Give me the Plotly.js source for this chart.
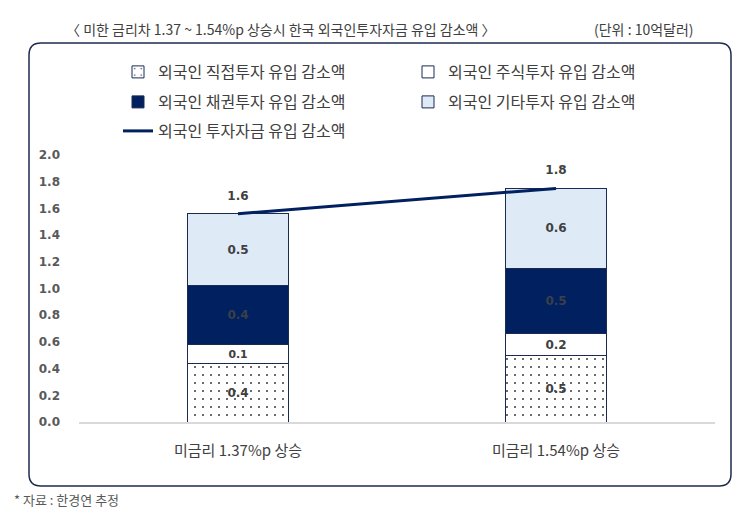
<!DOCTYPE html>
<html>
<head>
<meta charset="utf-8">
<script src="https://cdn.plot.ly/plotly-3.0.1.min.js"></script>
<style>
  html, body { margin: 0; padding: 0; background: #fff; }
  #chart { width: 744px; height: 516px; }
</style>
</head>
<body>
<div id="chart"></div>
<script>
"use strict"
// 값 (단위: 10억달러) - 그림에서 읽은 값
let categories = ['미금리 1.37%p 상승', '미금리 1.54%p 상승'];
let fdiValues = [0.44, 0.50];      // 직접투자
let equityValues = [0.14, 0.16];   // 주식투자
let bondValues = [0.44, 0.49];     // 채권투자
let otherValues = [0.54, 0.60];    // 기타투자
let totalValues = [1.56, 1.75];    // 투자자금 합계
let yTicks = [0, 0.2, 0.4, 0.6, 0.8, 1.0, 1.2, 1.4, 1.6, 1.8, 2.0];

let navy = '#002060';
let textGray = '#404040';
let numFont = 'DejaVu Sans';
let krFont = '"Noto Sans CJK KR", "Noto Sans", sans-serif';

// 플롯 영역 (px) -> paper 좌표
let plotL = 79, plotR = 715, plotT = 155, plotB = 422;
function px(x) { return (x - plotL) / (plotR - plotL); }
function py(y) { return (plotB - y) / (plotB - plotT); }

function barTrace(name, values, fill, legendId) {
    return {
        x: categories,
        y: values,
        name: name,
        legend: legendId,
        type: 'bar',
        width: 0.315,
        texttemplate: '%{y:.1f}',
        textposition: 'inside',
        insidetextanchor: 'middle',
        textangle: 0,
        textfont: { family: numFont, size: 12, color: textGray, weight: 'bold' },
        hoverinfo: 'none',
        marker: {
            color: fill,
            line: { color: '#1b2a52', width: 1 }
        }
    };
}

var trace1 = barTrace('외국인 직접투자 유입 감소액', fdiValues, '#ffffff', 'legend');
trace1.marker.pattern = { shape: '.', fgcolor: '#222222', bgcolor: '#ffffff', size: 8, solidity: 0.04 };
var trace2 = barTrace('외국인 주식투자 유입 감소액', equityValues, '#ffffff', 'legend');
var trace3 = barTrace('외국인 채권투자 유입 감소액', bondValues, navy, 'legend2');
trace3.textfont.color = '#3a3f4a';
var trace4 = barTrace('외국인 기타투자 유입 감소액', otherValues, '#deebf7', 'legend2');

var trace5 = {
    x: categories,
    y: totalValues,
    name: '외국인 투자자금 유입 감소액',
    legend: 'legend3',
    type: 'scatter',
    mode: 'lines+markers+text',
    texttemplate: '%{y:.1f}',
    textposition: 'top center',
    textfont: { family: numFont, size: 12, color: textGray, weight: 'bold' },
    hoverinfo: 'none',
    marker: { size: 16, color: 'rgba(0,0,0,0)' },
    line: { color: navy, width: 3 }
};

var data = [trace1, trace2, trace3, trace4, trace5];

function legendRow(yPix) {
    return {
        orientation: 'h',
        x: px(118),
        xanchor: 'left',
        y: py(yPix),
        yanchor: 'middle',
        entrywidth: 245,
        entrywidthmode: 'pixels',
        traceorder: 'normal',
        font: { family: krFont, size: 16, color: textGray },
        bgcolor: 'rgba(0,0,0,0)'
    };
}

var layout = {
    width: 744,
    height: 516,
    margin: { l: plotL, r: 744 - plotR, t: plotT, b: 516 - plotB },
    paper_bgcolor: '#ffffff',
    plot_bgcolor: '#ffffff',
    barmode: 'stack',
    bargap: 0,
    showlegend: true,
    font: { family: krFont, color: textGray },
    legend: legendRow(72),
    legend2: legendRow(102),
    legend3: legendRow(131),
    xaxis: {
        type: 'category',
        range: [-0.5, 1.5],
        showline: true,
        linecolor: '#d9d9d9',
        linewidth: 1.5,
        showgrid: false,
        ticks: '',
        ticklabelstandoff: 14,
        tickfont: { family: krFont, size: 15, color: textGray },
        fixedrange: true
    },
    yaxis: {
        range: [0, 2.0],
        tickvals: yTicks,
        tickformat: '.1f',
        showgrid: false,
        zeroline: false,
        showline: false,
        ticks: '',
        ticklabelstandoff: 18,
        tickfont: { family: numFont, size: 12, color: '#595959', weight: 'bold' },
        fixedrange: true
    },
    shapes: [],
    annotations: [
        {
            xref: 'paper', yref: 'paper', x: px(64), y: py(29),
            xanchor: 'left', yanchor: 'middle', showarrow: false,
            text: '〈 미한 금리차 1.37 ~ 1.54%p 상승시 한국 외국인투자자금 유입 감소액 〉',
            font: { family: krFont, size: 14, color: textGray }
        },
        {
            xref: 'paper', yref: 'paper', x: px(696), y: py(29),
            xanchor: 'right', yanchor: 'middle', showarrow: false,
            text: '(단위 : 10억달러)',
            font: { family: krFont, size: 14, color: textGray }
        },
        {
            xref: 'paper', yref: 'paper', x: px(12), y: py(499),
            xanchor: 'left', yanchor: 'middle', showarrow: false,
            text: '* 자료 : 한경연 추정',
            font: { family: krFont, size: 13, color: '#595959' }
        }
    ]
};

// 둥근 테두리 박스
let bx0 = px(29), bx1 = px(731), by0 = py(486), by1 = py(43);
let rx = 12 / (plotR - plotL), ry = 12 / (plotB - plotT);
let boxPath = 'M' + (bx0 + rx) + ',' + by1 +
    ' L' + (bx1 - rx) + ',' + by1 +
    ' Q' + bx1 + ',' + by1 + ' ' + bx1 + ',' + (by1 - ry) +
    ' L' + bx1 + ',' + (by0 + ry) +
    ' Q' + bx1 + ',' + by0 + ' ' + (bx1 - rx) + ',' + by0 +
    ' L' + (bx0 + rx) + ',' + by0 +
    ' Q' + bx0 + ',' + by0 + ' ' + bx0 + ',' + (by0 + ry) +
    ' L' + bx0 + ',' + (by1 - ry) +
    ' Q' + bx0 + ',' + by1 + ' ' + (bx0 + rx) + ',' + by1 + ' Z';
layout.shapes.push({
    type: 'path', xref: 'paper', yref: 'paper', path: boxPath,
    line: { color: '#1f2b4d', width: 1.5 }, layer: 'below'
});

Plotly.newPlot('chart', data, layout, { displayModeBar: false, staticPlot: true });
</script>
</body>
</html>
